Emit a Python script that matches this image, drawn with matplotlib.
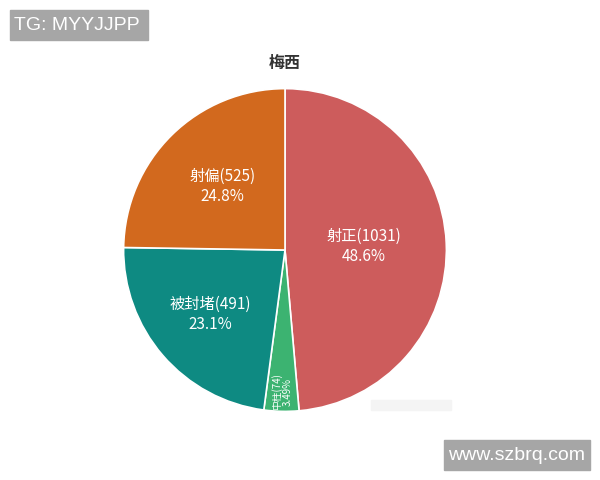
import numpy as np
import matplotlib.pyplot as plt

plt.rcParams['font.family'] = ['Noto Sans CJK SC', 'DejaVu Sans']

labels = ['射正', '中柱', '被封堵', '射偏']
counts = [1031, 74, 491, 525]
percents = ['48.6%', '3.49%', '23.1%', '24.8%']
colors = ['#cd5c5c', '#3cb371', '#0e8a82', '#d2691e']
label_r = [0.49, 0.88, 0.61, 0.55]

fig = plt.figure(figsize=(6, 4.8), dpi=100)
ax = fig.add_axes([122 / 600, 67 / 480, 326 / 600, 326 / 480])
wedges, _ = ax.pie(counts, colors=colors, startangle=90, counterclock=False,
                   radius=1, wedgeprops=dict(edgecolor='white', linewidth=1.2))
ax.set_xlim(-1.01, 1.01)
ax.set_ylim(-1.01, 1.01)
ax.axis('off')

for w, lab, c, p, r in zip(wedges, labels, counts, percents, label_r):
    mid = np.deg2rad((w.theta1 + w.theta2) / 2)
    x, y = r * np.cos(mid), r * np.sin(mid)
    if lab == '中柱':
        ax.text(x, y, '{}({})\n{}'.format(lab, c, p), ha='center', va='center',
                color='white', fontsize=7, rotation=90, linespacing=1.1)
    else:
        ax.text(x, y, '{}({})\n{}'.format(lab, c, p), ha='center', va='center',
                color='white', fontsize=11, linespacing=1.25)

fig.text(285 / 600, 1 - 63 / 480, '梅西', ha='center', va='center',
         fontsize=11.5, fontweight='bold', color='#333333')

# watermark boxes
fig.patches.append(plt.Rectangle((10 / 600, 1 - 40 / 480), 138 / 600, 30 / 480,
                                 transform=fig.transFigure, color='#a6a6a6'))
fig.text(14 / 600, 1 - 25 / 480, 'TG: MYYJJPP', ha='left', va='center',
         fontsize=14, color='white', family='Liberation Sans')
fig.patches.append(plt.Rectangle((444 / 600, 1 - 470 / 480), 146 / 600, 30 / 480,
                                 transform=fig.transFigure, color='#a6a6a6'))
fig.text(517 / 600, 1 - 455 / 480, 'www.szbrq.com', ha='center', va='center',
         fontsize=14, color='white', family='Liberation Sans')
fig.patches.append(plt.Rectangle((371 / 600, 1 - 410 / 480), 80 / 600, 10 / 480,
                                 transform=fig.transFigure, color='#f4f4f4'))

fig.savefig('out.png', dpi=100)
